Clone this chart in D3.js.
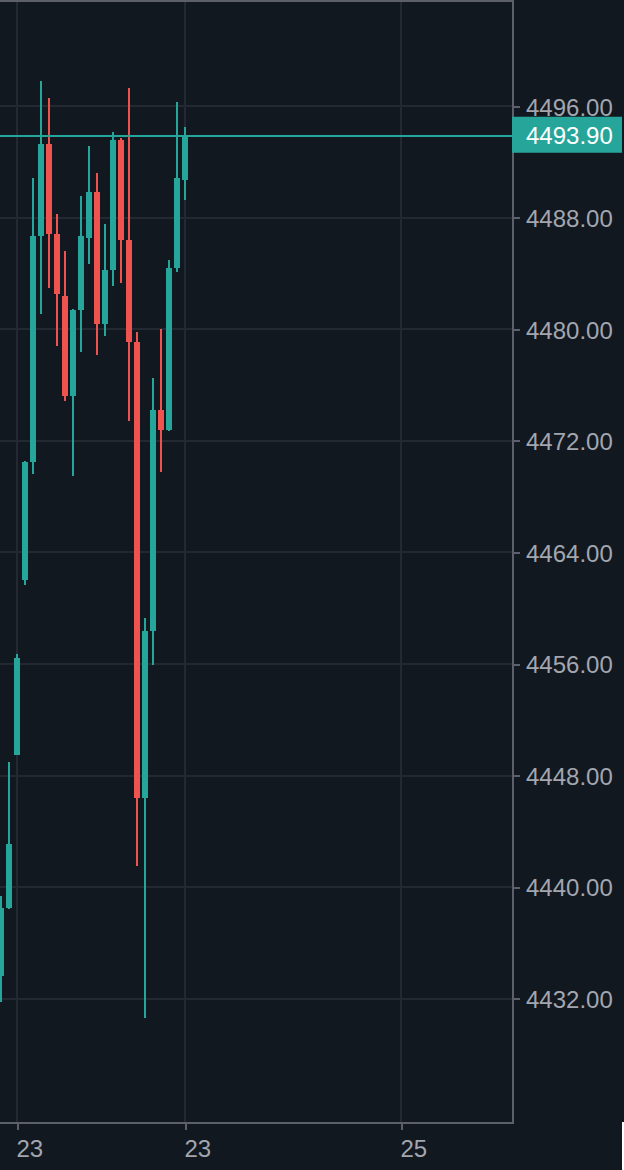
<!DOCTYPE html>
<meta charset="utf-8">
<style>
  html, body { margin: 0; padding: 0; background: #111820; }
  svg { display: block; }
  text { font-family: "Liberation Sans", sans-serif; }
</style>
<svg id="chart"></svg>

<script src="https://cdnjs.cloudflare.com/ajax/libs/d3/7.8.5/d3.min.js"></script>
<script>

  // candle values, one per bar, left to right
  var opens  = [4433.6, 4438.5, 4449.5, 4462.0, 4470.5, 4486.7, 4493.3, 4486.85, 4482.4, 4475.2, 4481.4, 4486.6,
                4489.9, 4480.4, 4484.3, 4493.6, 4486.4, 4479.1, 4446.4, 4458.4, 4474.2, 4472.8, 4484.4, 4490.7];
  var highs  = [4439.35, 4449.0, 4456.7, 4470.6, 4490.9, 4497.8, 4496.6, 4488.3, 4485.6, 4481.5, 4489.6, 4493.2,
                4491.2, 4487.6, 4494.2, 4493.75, 4497.3, 4479.8, 4459.3, 4476.5, 4480.0, 4485.0, 4496.3, 4494.5];
  var lows   = [4431.75, 4438.4, 4449.5, 4461.7, 4469.6, 4481.1, 4483.0, 4478.8, 4474.9, 4469.5, 4478.4, 4484.7,
                4478.2, 4479.5, 4483.1, 4483.3, 4473.4, 4441.5, 4430.6, 4455.9, 4469.8, 4472.7, 4484.1, 4489.3];
  var closes = [4438.5, 4443.1, 4456.4, 4470.5, 4486.7, 4493.3, 4486.85, 4482.55, 4475.2, 4481.4, 4486.7, 4489.9,
                4480.4, 4484.3, 4493.6, 4486.4, 4479.1, 4446.4, 4458.4, 4474.2, 4472.8, 4484.4, 4490.9, 4493.9];

  var priceTicks  = [4432, 4440, 4448, 4456, 4464, 4472, 4480, 4488, 4496];
  var dateTickIdx = [2, 23, 50];              // bar index of each date tick
  var dateLabels  = ["23", "23", "25"];
  var lastPrice   = 4493.90;

  // sizes and colors
  var width    = 624,
      height   = 1170,
      plotW    = 512,
      plotH    = 1122,
      barStep  = 8,
      bodyW    = 6,
      wickW    = 2,
      fontSize = "24px",
      bg       = "#111820",
      gridCol  = "#232833",
      axisCol  = "#5d606b",
      textCol  = "#a3a6af",
      upCol    = "#26a69a",
      downCol  = "#ef5350";

  var candles = opens.map(function(o, i) {
    return { i: i, o: o, h: highs[i], l: lows[i], c: closes[i] };
  });

  var x = d3.scaleLinear()
            .domain([-0.125, plotW / barStep - 0.125])
            .range([0, plotW]);

  var y = d3.scaleLinear()
            .domain([4423.14, 4503.64])
            .range([plotH, 0]);

  var svg = d3.select("#chart")
              .attr("width", width)
              .attr("height", height)
              .style("background", bg);

  // grid
  var grid = svg.append("g").attr("shape-rendering", "crispEdges");
  grid.selectAll("line.h")
      .data(priceTicks)
      .enter().append("line")
      .attr("class", "h")
      .attr("x1", 0).attr("x2", plotW)
      .attr("y1", function(d) { return y(d); })
      .attr("y2", function(d) { return y(d); })
      .attr("stroke", gridCol).attr("stroke-width", 2);
  grid.selectAll("line.v")
      .data(dateTickIdx)
      .enter().append("line")
      .attr("class", "v")
      .attr("y1", 0).attr("y2", plotH)
      .attr("x1", function(d) { return x(d); })
      .attr("x2", function(d) { return x(d); })
      .attr("stroke", gridCol).attr("stroke-width", 2);

  // candles
  var bars = svg.append("g").attr("shape-rendering", "crispEdges");
  var g = bars.selectAll("g")
              .data(candles)
              .enter().append("g")
              .attr("fill", function(d) { return d.c >= d.o ? upCol : downCol; });
  g.append("rect")
   .attr("x", function(d) { return x(d.i) - wickW / 2; })
   .attr("width", wickW)
   .attr("y", function(d) { return y(d.h); })
   .attr("height", function(d) { return Math.max(1, y(d.l) - y(d.h)); });
  g.append("rect")
   .attr("x", function(d) { return x(d.i) - bodyW / 2; })
   .attr("width", bodyW)
   .attr("y", function(d) { return y(Math.max(d.o, d.c)); })
   .attr("height", function(d) { return Math.max(1, Math.abs(y(d.o) - y(d.c))); });

  // last price line
  svg.append("line")
     .attr("x1", 0).attr("x2", plotW)
     .attr("y1", y(lastPrice)).attr("y2", y(lastPrice))
     .attr("stroke", upCol).attr("stroke-width", 2)
     .attr("shape-rendering", "crispEdges");

  // frame
  var frame = svg.append("g").attr("shape-rendering", "crispEdges").attr("stroke", axisCol).attr("stroke-width", 2);
  frame.append("line").attr("x1", 0).attr("x2", plotW + 2).attr("y1", 1).attr("y2", 1);
  frame.append("line").attr("x1", plotW + 1).attr("x2", plotW + 1).attr("y1", 0).attr("y2", plotH + 2);
  frame.append("line").attr("x1", 0).attr("x2", plotW + 2).attr("y1", plotH + 1).attr("y2", plotH + 1);

  // price axis
  var yAxis = svg.append("g")
                 .attr("transform", "translate(" + (plotW + 2) + ",0)")
                 .call(d3.axisRight(y)
                         .tickValues(priceTicks)
                         .tickFormat(d3.format(".2f"))
                         .tickSize(6)
                         .tickPadding(6));
  yAxis.select(".domain").remove();
  yAxis.selectAll(".tick line").attr("stroke", axisCol).attr("stroke-width", 2).attr("shape-rendering", "crispEdges");
  yAxis.selectAll(".tick text")
       .attr("fill", textCol)
       .style("font-size", fontSize)
       .attr("dy", "0.36em");

  // last price label
  var lp = svg.append("g").attr("transform", "translate(" + plotW + "," + y(lastPrice) + ")");
  lp.append("rect")
    .attr("x", 0).attr("y", -19)
    .attr("width", 110).attr("height", 36)
    .attr("fill", upCol);
  lp.append("text")
    .attr("x", 14).attr("dy", "0.36em")
    .attr("fill", "#ffffff")
    .style("font-size", fontSize)
    .text(d3.format(".2f")(lastPrice));

  // date axis
  var xAxis = svg.append("g")
                 .attr("transform", "translate(0," + (plotH + 2) + ")")
                 .call(d3.axisBottom(x)
                         .tickValues(dateTickIdx)
                         .tickFormat(function(d, i) { return dateLabels[i]; })
                         .tickSize(6));
  xAxis.select(".domain").remove();
  xAxis.selectAll(".tick line").attr("stroke", axisCol).attr("stroke-width", 2).attr("shape-rendering", "crispEdges");
  xAxis.selectAll(".tick text")
       .attr("fill", textCol)
       .attr("text-anchor", "start")
       .attr("x", -1)
       .attr("y", 33)
       .attr("dy", 0)
       .style("font-size", fontSize);

  // thin white edge at the lower right
  svg.append("rect")
     .attr("x", width - 2).attr("y", plotH)
     .attr("width", 2).attr("height", height - plotH)
     .attr("fill", "#ffffff");

</script>
